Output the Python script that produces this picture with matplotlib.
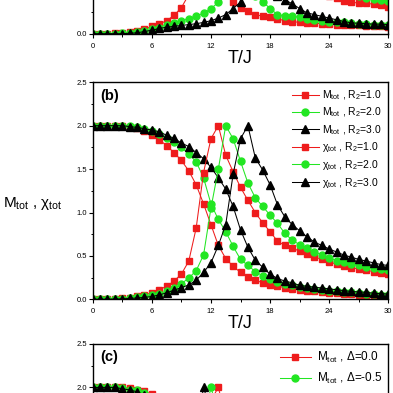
import matplotlib
matplotlib.use('Agg')
import matplotlib.pyplot as plt
from matplotlib.ticker import MultipleLocator, FormatStrFormatter, FixedLocator
from matplotlib.lines import Line2D

plt.rcParams['font.family'] = ['Liberation Sans', 'DejaVu Sans']
plt.rcParams['mathtext.fontset'] = 'custom'
plt.rcParams['mathtext.rm'] = 'Liberation Sans'
plt.rcParams['mathtext.it'] = 'Liberation Sans:italic'
plt.rcParams['mathtext.bf'] = 'Liberation Sans:bold'

# ---------------- data ----------------
T = [0.0, 0.75, 1.5, 2.25, 3.0, 3.75, 4.5, 5.25, 6.0, 6.75, 7.5, 8.25, 9.0, 9.75,
     10.5, 11.25, 12.0, 12.75, 13.5, 14.25, 15.0, 15.75, 16.5, 17.25, 18.0, 18.75,
     19.5, 20.25, 21.0, 21.75, 22.5, 23.25, 24.0, 24.75, 25.5, 26.25, 27.0, 27.75,
     28.5, 29.25, 30.0]
x_ticks = [0, 6, 12, 18, 24, 30]

# panel (a)
M_a_red = [2.0, 2.0, 2.0, 2.0, 1.99, 1.98, 1.96, 1.93, 1.88, 1.82, 1.74, 1.64, 1.52, 1.36,
           1.15, 0.9, 0.7, 0.55, 0.45, 0.37, 0.30, 0.265, 0.215, 0.205, 0.19, 0.17, 0.15,
           0.14, 0.13, 0.125, 0.12, 0.115, 0.11, 0.105, 0.10, 0.10, 0.095, 0.09, 0.09, 0.085, 0.08]
M_a_green = [2.0, 2.0, 2.0, 2.0, 2.0, 1.99, 1.98, 1.96, 1.93, 1.89, 1.84, 1.78, 1.71, 1.62,
             1.52, 1.40, 1.26, 1.10, 0.92, 0.75, 0.60, 0.50, 0.43, 0.37, 0.29, 0.22, 0.205,
             0.20, 0.19, 0.17, 0.16, 0.15, 0.14, 0.135, 0.13, 0.12, 0.115, 0.11, 0.105, 0.10, 0.095]
M_a_black = [2.0, 2.0, 2.0, 2.0, 2.0, 2.0, 1.99, 1.98, 1.96, 1.94, 1.91, 1.87, 1.82, 1.76,
             1.69, 1.61, 1.52, 1.42, 1.30, 1.16, 1.0, 0.85, 0.70, 0.58, 0.50, 0.43, 0.39,
             0.345, 0.29, 0.24, 0.22, 0.20, 0.18, 0.16, 0.14, 0.125, 0.12, 0.115, 0.11, 0.11, 0.105]
chi_a_red = [0, 0, 0, 0.003, 0.008, 0.015, 0.03, 0.05, 0.085, 0.11, 0.15, 0.21, 0.30, 0.45,
             0.8, 1.4, 2.0, 1.7, 1.45, 1.25, 1.1, 0.98, 0.88, 0.8, 0.73, 0.67, 0.62, 0.58,
             0.54, 0.51, 0.48, 0.45, 0.43, 0.41, 0.375, 0.36, 0.355, 0.35, 0.34, 0.335, 0.31]
chi_a_green = [0, 0, 0, 0.002, 0.005, 0.01, 0.02, 0.03, 0.05, 0.07, 0.105, 0.125, 0.15, 0.175,
               0.205, 0.235, 0.29, 0.36, 0.7, 1.4, 2.0, 1.55, 1.25, 1.08, 0.95, 0.85, 0.78,
               0.72, 0.67, 0.62, 0.58, 0.55, 0.52, 0.49, 0.47, 0.45, 0.43, 0.415, 0.40, 0.39, 0.375]
chi_a_black = [0, 0, 0, 0, 0, 0.005, 0.01, 0.025, 0.04, 0.06, 0.075, 0.085, 0.095, 0.105,
               0.115, 0.13, 0.15, 0.18, 0.22, 0.29, 0.365, 0.7, 1.3, 2.0, 1.6, 1.35, 1.15,
               1.02, 0.92, 0.84, 0.78, 0.73, 0.69, 0.65, 0.62, 0.59, 0.565, 0.545, 0.525, 0.51, 0.495]

# panel (b)
M_b_red = [2.0, 2.0, 2.0, 2.0, 1.995, 1.985, 1.97, 1.94, 1.89, 1.84, 1.77, 1.69, 1.60, 1.48,
           1.32, 1.10, 0.86, 0.62, 0.47, 0.38, 0.31, 0.26, 0.22, 0.19, 0.17, 0.15, 0.135,
           0.12, 0.11, 0.10, 0.09, 0.085, 0.078, 0.07, 0.065, 0.06, 0.055, 0.05, 0.045, 0.04, 0.037]
M_b_green = [2.0, 2.0, 2.0, 2.0, 2.0, 1.995, 1.985, 1.965, 1.935, 1.90, 1.86, 1.81, 1.75, 1.67,
             1.585, 1.40, 1.10, 0.92, 0.78, 0.61, 0.46, 0.39, 0.32, 0.27, 0.23, 0.20, 0.18,
             0.16, 0.145, 0.13, 0.12, 0.11, 0.10, 0.09, 0.085, 0.08, 0.07, 0.065, 0.06, 0.055, 0.05]
M_b_black = [2.0, 2.0, 2.0, 2.0, 2.0, 1.99, 1.98, 1.965, 1.95, 1.93, 1.89, 1.855, 1.80, 1.76,
             1.69, 1.62, 1.52, 1.40, 1.27, 1.07, 0.80, 0.60, 0.45, 0.37, 0.29, 0.24, 0.21,
             0.19, 0.16, 0.15, 0.14, 0.13, 0.12, 0.11, 0.10, 0.09, 0.085, 0.08, 0.07, 0.065, 0.06]
chi_b_red = [0, 0, 0.002, 0.005, 0.01, 0.02, 0.035, 0.05, 0.076, 0.11, 0.15, 0.21, 0.29, 0.44,
             0.82, 1.46, 1.85, 2.0, 1.66, 1.47, 1.29, 1.14, 1.0, 0.88, 0.78, 0.67, 0.62, 0.59,
             0.555, 0.52, 0.49, 0.46, 0.43, 0.405, 0.385, 0.365, 0.35, 0.335, 0.32, 0.305, 0.295]
chi_b_green = [0, 0, 0, 0.003, 0.008, 0.015, 0.025, 0.035, 0.045, 0.065, 0.09, 0.13, 0.18, 0.245,
               0.33, 0.51, 1.05, 1.5, 2.0, 1.85, 1.59, 1.34, 1.17, 1.07, 0.97, 0.875, 0.76,
               0.68, 0.63, 0.59, 0.55, 0.51, 0.475, 0.445, 0.425, 0.405, 0.39, 0.375, 0.36, 0.345, 0.335]
chi_b_black = [0, 0, 0, 0.002, 0.005, 0.01, 0.015, 0.022, 0.032, 0.05, 0.075, 0.105, 0.135, 0.165,
               0.22, 0.31, 0.42, 0.62, 0.86, 1.44, 1.85, 2.0, 1.63, 1.49, 1.32, 1.09, 0.95,
               0.86, 0.79, 0.72, 0.66, 0.62, 0.58, 0.545, 0.51, 0.485, 0.46, 0.44, 0.42, 0.40, 0.39]

# panel (c)
M_c_red = [2.0, 2.0, 2.0, 2.0, 2.0, 1.99, 1.975, 1.955, 1.92, 1.88, 1.83, 1.76, 1.67, 1.55,
           1.38, 1.12, 0.85, 0.62, 0.47, 0.38, 0.31, 0.26, 0.22, 0.19, 0.17, 0.15, 0.135,
           0.12, 0.11, 0.10, 0.09, 0.085, 0.078, 0.07, 0.065, 0.06, 0.055, 0.05, 0.045, 0.04, 0.037]
M_c_green = [2.0, 2.0, 2.0, 2.0, 1.995, 1.975, 1.965, 1.935, 1.89, 1.84, 1.78, 1.70, 1.60, 1.47,
             1.28, 1.02, 0.78, 0.58, 0.45, 0.36, 0.30, 0.25, 0.21, 0.18, 0.16, 0.14, 0.13,
             0.115, 0.105, 0.095, 0.088, 0.08, 0.074, 0.068, 0.062, 0.057, 0.052, 0.048, 0.044, 0.04, 0.036]
M_c_black = [2.0, 2.0, 2.0, 2.0, 1.985, 1.97, 1.95, 1.91, 1.86, 1.80, 1.73, 1.64, 1.53, 1.38,
             1.18, 0.92, 0.70, 0.53, 0.42, 0.34, 0.28, 0.24, 0.20, 0.17, 0.15, 0.135, 0.12,
             0.11, 0.10, 0.092, 0.085, 0.078, 0.072, 0.066, 0.06, 0.055, 0.05, 0.046, 0.042, 0.039, 0.035]
chi_c_red = [0, 0, 0.002, 0.005, 0.01, 0.02, 0.035, 0.05, 0.076, 0.11, 0.15, 0.21, 0.29, 0.44,
             0.82, 1.46, 1.85, 2.0, 1.66, 1.47, 1.29, 1.14, 1.0, 0.88, 0.78, 0.67, 0.62, 0.59,
             0.555, 0.52, 0.49, 0.46, 0.43, 0.405, 0.385, 0.365, 0.35, 0.335, 0.32, 0.305, 0.295]
chi_c_green = [0, 0, 0.003, 0.006, 0.012, 0.024, 0.04, 0.06, 0.09, 0.13, 0.19, 0.27, 0.40, 0.62,
               1.05, 1.6, 2.0, 1.7, 1.48, 1.3, 1.15, 1.02, 0.91, 0.82, 0.74, 0.67, 0.62, 0.58,
               0.54, 0.51, 0.48, 0.45, 0.42, 0.40, 0.38, 0.36, 0.345, 0.33, 0.315, 0.30, 0.29]
chi_c_black = [0, 0, 0.004, 0.008, 0.016, 0.03, 0.05, 0.075, 0.11, 0.16, 0.24, 0.36, 0.55, 0.9,
               1.5, 2.0, 1.72, 1.5, 1.31, 1.15, 1.02, 0.91, 0.82, 0.74, 0.68, 0.62, 0.58, 0.54,
               0.51, 0.48, 0.45, 0.42, 0.40, 0.38, 0.36, 0.345, 0.33, 0.315, 0.30, 0.29, 0.28]

labels_b = [r'$\mathrm{M_{tot}}$ , $\mathrm{R_2}$=1.0', r'$\mathrm{M_{tot}}$ , $\mathrm{R_2}$=2.0',
            r'$\mathrm{M_{tot}}$ , $\mathrm{R_2}$=3.0', r'$\mathrm{χ_{tot}}$ , $\mathrm{R_2}$=1.0',
            r'$\mathrm{χ_{tot}}$ , $\mathrm{R_2}$=2.0', r'$\mathrm{χ_{tot}}$ , $\mathrm{R_2}$=3.0']
labels_c = [r'$\mathrm{M_{tot}}$ , Δ=0.0', r'$\mathrm{M_{tot}}$ , Δ=-0.5']

# y ticks that fall inside the visible window of each panel
yticks_a, yminor_a = [0.0], [0.25]
yticks_b, yminor_b = [0.0, 0.5, 1.0, 1.5, 2.0, 2.5], [0.25, 0.75, 1.25, 1.75, 2.25]
yticks_c, yminor_c = [2.0, 2.5], [2.25]

# ---------------- style ----------------
RED = '#ee1c1c'
GREEN = '#22e622'
BLACK = '#000000'
colors = [RED, GREEN, BLACK]
markers = ['s', 'o', '^']
msizes = [4.8, 5.0, 5.4]

fig = plt.figure(figsize=(3.93, 3.93), dpi=100)
W = 393.0


def px_axes(left, top, right, bottom):
    return fig.add_axes([left / W, 1 - bottom / W, (right - left) / W, (bottom - top) / W])


ax_a = px_axes(92.7, 33.7 - 217, 388.3, 33.7)
ax_b = px_axes(92.7, 82.3, 388.3, 299.3)
ax_c = px_axes(92.7, 344, 388.3, 561)


def draw(ax, series):
    for y, c, m, s in series:
        ax.plot(T, y, color=c, marker=m, ms=s, mec=c, mfc=c, lw=0.75)


def style(ax, yt, ym, xlabel=True):
    ax.set_xlim(0, 30)
    ax.set_ylim(0, 2.5)
    ax.set_xticks(x_ticks)
    ax.xaxis.set_minor_locator(MultipleLocator(3))
    ax.yaxis.set_major_locator(FixedLocator(yt))
    ax.yaxis.set_minor_locator(FixedLocator(ym))
    ax.yaxis.set_major_formatter(FormatStrFormatter('%.1f'))
    ax.tick_params(which='major', direction='out', length=3, width=0.8, labelsize=5.5)
    ax.tick_params(axis='x', which='major', pad=3.5)
    ax.tick_params(axis='y', which='major', pad=0.8)
    ax.tick_params(which='minor', direction='out', length=1.8, width=0.7)
    for sp in ax.spines.values():
        sp.set_linewidth(1.0)
    if xlabel:
        ax.set_xlabel('T/J', fontsize=13, labelpad=0)
    else:
        ax.tick_params(axis='x', labelbottom=False)


series_a = [(M_a_red, RED, 's', 4.8), (M_a_green, GREEN, 'o', 5.0), (M_a_black, BLACK, '^', 5.4),
            (chi_a_red, RED, 's', 4.8), (chi_a_green, GREEN, 'o', 5.0), (chi_a_black, BLACK, '^', 5.4)]
series_b = [(M_b_red, RED, 's', 4.8), (M_b_green, GREEN, 'o', 5.0), (M_b_black, BLACK, '^', 5.4),
            (chi_b_red, RED, 's', 4.8), (chi_b_green, GREEN, 'o', 5.0), (chi_b_black, BLACK, '^', 5.4)]
series_c = [(M_c_red, RED, 's', 4.8), (M_c_green, GREEN, 'o', 5.0), (M_c_black, BLACK, '^', 5.4),
            (chi_c_red, RED, 's', 4.8), (chi_c_green, GREEN, 'o', 5.0), (chi_c_black, BLACK, '^', 5.4)]

draw(ax_a, series_a)
draw(ax_b, series_b)
draw(ax_c, series_c)
style(ax_a, yticks_a, yminor_a)
style(ax_b, yticks_b, yminor_b)
style(ax_c, yticks_c, yminor_c, xlabel=False)

ax_b.text(0.025, 0.938, '(b)', transform=ax_b.transAxes, fontsize=10.5, fontweight='bold',
          ha='left', va='center')
ax_c.text(0.025, 0.938, '(c)', transform=ax_c.transAxes, fontsize=10.5, fontweight='bold',
          ha='left', va='center')

handles_b = [Line2D([], [], color=c, marker=m, ms=s, mec=c, mfc=c, lw=0.75)
             for c, m, s in zip(colors * 2, markers * 2, msizes * 2)]
ax_b.legend(handles_b, labels_b, loc='upper right', frameon=False, fontsize=7.5,
            handlelength=2.6, handletextpad=0.35, labelspacing=0.35, borderpad=0.3,
            borderaxespad=0.3)

handles_c = [Line2D([], [], color=c, marker=m, ms=s, mec=c, mfc=c, lw=0.75)
             for c, m, s in zip(colors[:2], markers[:2], msizes[:2])]
ax_c.legend(handles_c, labels_c, loc='upper right', frameon=False, fontsize=8.5,
            handlelength=2.6, handletextpad=0.5, labelspacing=0.5, borderpad=0.3,
            borderaxespad=0.2)

fig.text(3 / W, 1 - 207 / W, r'$\mathrm{M_{tot}}$ , $\mathrm{χ_{tot}}$', fontsize=11,
         ha='left', va='baseline')

fig.savefig('out.png', dpi=100)
